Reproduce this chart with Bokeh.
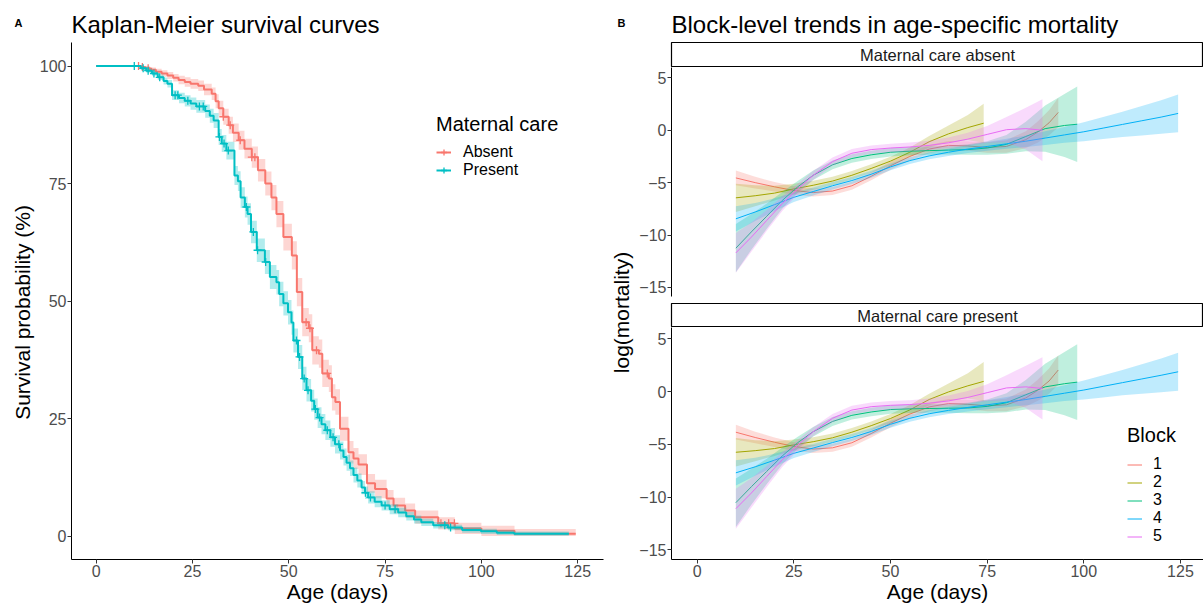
import numpy as np
from bokeh.plotting import figure
from bokeh.models import Range1d, Legend, LegendItem, FixedTicker
from bokeh.layouts import row, column
from bokeh.embed import file_html
from bokeh.resources import INLINE
from bokeh.core.properties import value

FONT = "Liberation Sans"
RED = "#F8766D"
TEAL = "#00BFC4"
BLOCK_COLORS = ["#F8766D", "#A3A500", "#00BF7D", "#00B0F6", "#E76BF3"]

# ---------------- Panel A: Kaplan-Meier data ----------------
absent_time = [0, 11.5, 12.5, 14, 15.5, 17, 18.5, 20, 21.4, 23,
               24.5, 26.5, 28, 30, 31, 31.8, 33, 34.4, 35.5, 37,
               38.5, 40.4, 42, 43.9, 45.5, 46.8, 48.6, 50.8, 52.1, 53.5,
               55.2, 56.1, 57.8, 58.7, 60.4, 61.2, 62.1, 63.3, 65.5, 66.8,
               68.1, 70.3, 72.4, 75.4, 77.2, 80.2, 82.8, 88.8, 93.1, 100,
               108.6, 124.5]
absent_surv = [100, 99.8, 99.5, 99.2, 98.8, 98.4, 98.0, 97.5, 97.0, 96.6,
               96.2, 95.8, 95.0, 94.1, 92.5, 91.0, 89.2, 87.4, 85.8, 84.2,
               82.4, 80.6, 77.8, 75.0, 72.0, 68.5, 63.6, 59.7, 51.9, 45.5,
               44.2, 39.5, 38.8, 34.6, 33.5, 29.5, 28.5, 22.8, 17.8, 16.5,
               15.2, 11.2, 10.0, 8.0, 6.5, 5.4, 4.0, 2.7, 1.6, 1.1,
               0.5, 0.5]
absent_hw = [0, 0.3, 0.45, 0.5, 0.6, 0.7, 0.75, 0.8, 0.9, 1.0,
             1.05, 1.1, 1.2, 1.35, 1.5, 1.6, 1.7, 1.8, 1.95, 2.0,
             2.1, 2.25, 2.4, 2.55, 2.7, 2.8, 2.85, 3.0, 3.0, 3.0,
             3.0, 3.0, 3.0, 2.9, 2.85, 2.8, 2.7, 2.55, 2.4, 2.25,
             2.2, 2.0, 1.95, 1.8, 1.65, 1.5, 1.4, 1.3, 1.2, 1.1,
             1.0, 1.0]
absent_cens_time = [11.0, 12.0, 13.5, 33.0, 34.8, 37.4, 40.4, 41.2, 54.5, 55.5, 57.2, 60.0, 89.5, 91.5, 93.0]
absent_cens_surv = [100, 99.8, 99.5, 89.2, 87.4, 84.2, 80.6, 80.6, 45.5, 44.2, 39.5, 34.6, 2.7, 2.7, 2.7]

present_time = [0, 11.6, 13, 14.5, 16, 17.5, 18.5, 19.7, 21.5, 23,
                24.5, 26, 28.3, 29.5, 30.5, 31.8, 32.6, 33.8, 35.9, 36.8,
                37.5, 38.6, 39.3, 40.2, 41.7, 43.8, 45.1, 46.8, 47.5, 48.6,
                49.8, 50.7, 51.2, 52.4, 53.5, 54.6, 55.8, 56.6, 57.5, 58.5,
                59.5, 60.8, 62.0, 63.3, 64.2, 65.0, 65.9, 66.8, 67.8, 68.9,
                69.8, 70.6, 72.3, 74.1, 76.2, 78.4, 80.5, 82.5, 84.4, 87.5,
                91.3, 95, 99.9, 104, 108.5, 122.7]
present_surv = [100, 99.5, 99.0, 98.4, 97.6, 96.8, 96.2, 93.8, 93.2, 92.6,
                92.0, 91.4, 90.4, 89.4, 88.4, 84.9, 83.5, 82.0, 76.7, 75.5,
                72.0, 70.0, 68.5, 64.7, 60.8, 58.3, 55.1, 54.0, 51.5, 49.5,
                47.6, 45.4, 41.6, 38.1, 33.5, 31.0, 28.8, 27.0, 25.2, 23.8,
                22.5, 21.0, 19.5, 18.2, 16.8, 15.6, 14.4, 13.0, 11.8, 10.3,
                9.2, 8.2, 7.3, 6.5, 5.7, 5.0, 4.2, 3.5, 2.9, 2.3,
                1.8, 1.3, 1.0, 0.7, 0.5, 0.5]
present_hw = [0, 0.3, 0.45, 0.5, 0.6, 0.75, 0.8, 1.05, 1.1, 1.2,
              1.3, 1.35, 1.4, 1.5, 1.6, 1.7, 1.8, 1.9, 2.0, 2.1,
              2.2, 2.25, 2.3, 2.4, 2.5, 2.55, 2.55, 2.6, 2.6, 2.6,
              2.6, 2.6, 2.55, 2.55, 2.5, 2.4, 2.3, 2.25, 2.2, 2.15,
              2.1, 2.0, 1.95, 1.9, 1.8, 1.7, 1.65, 1.6, 1.5, 1.4,
              1.35, 1.3, 1.2, 1.1, 1.05, 1.0, 0.9, 0.85, 0.75, 0.7,
              0.6, 0.6, 0.55, 0.5, 0.45, 0.45]
present_cens_time = [9.9, 12.2, 13.5, 15.0, 16.5, 20.5, 21.2, 23.8, 26.8, 27.8, 32.0, 33.2, 34.3,
                     39.0, 40.8, 41.9, 44.0, 52.0, 52.8, 54.0, 55.0, 56.9, 58.0, 60.0, 61.5, 63.0,
                     69.9, 71.2, 75.0, 77.6, 90.5, 92.0]
present_cens_surv = [100, 99.5, 99.0, 98.4, 97.6, 93.8, 93.8, 92.6, 91.4, 91.4, 84.9, 83.5, 82.0,
                     70.0, 64.7, 60.8, 58.3, 41.6, 38.1, 33.5, 31.0, 27.0, 25.2, 22.5, 21.0, 19.5,
                     9.2, 8.2, 6.5, 5.7, 2.3, 1.8]

age_ticks = [0, 25, 50, 75, 100, 125]
surv_ticks = [0, 25, 50, 75, 100]
mort_ticks = [-15, -10, -5, 0, 5]

# ---------------- Panel B: block-level smooth trends ----------------
block_names = ["1", "2", "3", "4", "5"]
b1_age = [10, 15, 20, 25, 30, 35, 40, 45, 50, 55, 60, 65, 70, 75, 80, 85, 88, 91, 93.4]
b1_absent = [-4.55, -5.0, -5.4, -5.75, -5.95, -5.8, -5.3, -4.4, -3.4, -2.5, -1.8, -1.45, -1.5, -1.65, -1.55, -0.9, -0.2, 0.7, 1.7]
b1_present = [-3.85, -4.35, -4.8, -5.2, -5.45, -5.33, -4.85, -3.98, -3.0, -2.13, -1.45, -1.13, -1.2, -1.35, -1.25, -0.6, 0.1, 1.0, 2.05]
b1_hw = [0.7, 0.55, 0.45, 0.4, 0.38, 0.38, 0.38, 0.38, 0.38, 0.38, 0.4, 0.42, 0.45, 0.5, 0.6, 0.8, 1.0, 1.2, 1.4]

b2_age = [10, 15, 20, 25, 30, 35, 40, 45, 50, 55, 60, 65, 70, 74.1]
b2_absent = [-6.45, -6.25, -6.0, -5.6, -5.25, -4.85, -4.3, -3.65, -2.95, -2.1, -1.1, -0.35, 0.25, 0.67]
b2_present = [-5.75, -5.6, -5.4, -5.05, -4.75, -4.38, -3.85, -3.23, -2.55, -1.73, -0.75, -0.03, 0.55, 0.97]
b2_hw = [1.35, 1.0, 0.7, 0.5, 0.42, 0.4, 0.4, 0.4, 0.42, 0.45, 0.55, 0.8, 1.2, 1.85]

b3_age = [10, 14, 18, 22, 26, 30, 35, 40, 45, 50, 55, 60, 65, 70, 75, 80, 85, 90, 95, 98.3]
b3_absent = [-11.25, -9.7, -8.2, -6.7, -5.4, -4.3, -3.3, -2.7, -2.35, -2.1, -2.0, -1.95, -1.9, -1.85, -1.7, -1.35, -0.6, 0.15, 0.45, 0.57]
b3_present = [-10.53, -9.02, -7.56, -6.1, -4.84, -3.8, -2.83, -2.25, -1.93, -1.7, -1.63, -1.6, -1.58, -1.55, -1.4, -1.05, -0.3, 0.45, 0.75, 0.9]
b3_hw = [2.3, 1.7, 1.2, 0.8, 0.55, 0.45, 0.42, 0.4, 0.4, 0.4, 0.4, 0.4, 0.42, 0.5, 0.65, 0.9, 1.4, 2.2, 3.0, 3.6]

b4_age = [10, 15, 20, 25, 30, 35, 40, 45, 50, 55, 60, 65, 70, 75, 80, 85, 90, 95, 100, 105, 110, 115, 120, 124.4]
b4_absent = [-8.45, -7.8, -7.1, -6.4, -5.85, -5.3, -4.8, -4.2, -3.5, -2.9, -2.45, -2.1, -1.8, -1.55, -1.3, -1.05, -0.75, -0.45, -0.15, 0.2, 0.55, 0.9, 1.25, 1.6]
b4_present = [-7.7, -7.13, -6.5, -5.85, -5.35, -4.83, -4.35, -3.78, -3.1, -2.53, -2.1, -1.78, -1.5, -1.25, -1.0, -0.75, -0.45, -0.15, 0.15, 0.5, 0.85, 1.2, 1.55, 1.88]
b4_hw = [1.2, 0.85, 0.6, 0.45, 0.38, 0.35, 0.33, 0.33, 0.33, 0.33, 0.33, 0.35, 0.38, 0.42, 0.48, 0.55, 0.65, 0.75, 0.9, 1.05, 1.2, 1.4, 1.6, 1.8]

b5_age = [10, 14, 18, 22, 26, 30, 35, 40, 45, 50, 55, 60, 65, 70, 75, 80, 85, 89.3]
b5_absent = [-11.7, -10.2, -8.6, -7.0, -5.6, -4.3, -3.0, -2.2, -1.85, -1.7, -1.6, -1.45, -1.2, -0.85, -0.4, 0.05, 0.15, 0.0]
b5_present = [-11.1, -9.62, -8.04, -6.46, -5.08, -3.8, -2.53, -1.75, -1.43, -1.3, -1.23, -1.1, -0.88, -0.55, -0.1, 0.35, 0.45, 0.3]
b5_hw = [1.9, 1.4, 1.0, 0.7, 0.5, 0.42, 0.4, 0.4, 0.4, 0.4, 0.42, 0.45, 0.5, 0.6, 0.8, 1.2, 2.0, 2.95]

blocks = [
    (b1_age, b1_absent, b1_present, b1_hw),
    (b2_age, b2_absent, b2_present, b2_hw),
    (b3_age, b3_absent, b3_present, b3_hw),
    (b4_age, b4_absent, b4_present, b4_hw),
    (b5_age, b5_absent, b5_present, b5_hw),
]

H = 606          # total height
TOP = 42         # space above the plotting frames
BOT = 47         # space below the plotting frames
FRAME_H = H - TOP - BOT


def style_axis(ax, ticks):
    ax.ticker = FixedTicker(ticks=ticks)
    ax.axis_line_color = "black"
    ax.axis_line_width = 1
    ax.major_tick_line_color = "#333333"
    ax.major_tick_out = 4
    ax.major_tick_in = 0
    ax.minor_tick_line_color = None
    ax.major_label_text_font = FONT
    ax.major_label_text_font_size = "16px"
    ax.major_label_text_color = "#4D4D4D"
    ax.major_label_standoff = 1
    ax.axis_label_text_font = FONT
    ax.axis_label_text_font_size = "21px"
    ax.axis_label_text_font_style = "normal"
    ax.axis_label_text_color = "black"
    ax.axis_label_standoff = 0


def clean(p):
    p.xgrid.visible = False
    p.ygrid.visible = False
    p.background_fill_color = "white"
    p.border_fill_color = "white"


def style_title(t, size, bold=False, align="left", standoff=10):
    t.text_font = FONT
    t.text_font_size = size
    t.text_font_style = "bold" if bold else "normal"
    t.text_color = "black"
    t.align = align
    t.standoff = standoff


def label_column(width, text, x_text, letter):
    f = figure(width=width, height=H, x_range=Range1d(0, width), y_range=Range1d(0, FRAME_H),
               output_backend="svg", toolbar_location=None,
               x_axis_location=None, y_axis_location=None,
               min_border_left=0, min_border_right=0, min_border_top=TOP, min_border_bottom=BOT,
               title=letter)
    clean(f)
    f.outline_line_color = None
    style_title(f.title, "11px", bold=True, align="center", standoff=28)
    f.text(x=[x_text], y=[FRAME_H - (312 - TOP)], text=[text], angle=np.pi / 2,
           text_font=value(FONT), text_font_size="21px", text_color="black",
           text_align="center", text_baseline="middle")
    return f


# ---------------- y label + "A" ----------------
ylab_a = label_column(36, "Survival probability (%)", 22, "A")

# ---------------- Figure A ----------------
km = figure(width=572, height=H, x_range=Range1d(-6.4, 131.7), y_range=Range1d(-5, 105),
            output_backend="svg", toolbar_location=None,
            min_border_left=32, min_border_right=5, min_border_top=TOP, min_border_bottom=BOT,
            title="Kaplan-Meier survival curves")
clean(km)
km.outline_line_color = None
style_title(km.title, "24px", standoff=10)
km.xaxis.axis_label = "Age (days)"
style_axis(km.xaxis[0], age_ticks)
style_axis(km.yaxis[0], surv_ticks)

legend_items = []
for lab, t, s, hw, ct, cs, col in [
        ("Absent", absent_time, absent_surv, absent_hw, absent_cens_time, absent_cens_surv, RED),
        ("Present", present_time, present_surv, present_hw, present_cens_time, present_cens_surv, TEAL)]:
    s_arr = np.array(s)
    h_arr = np.array(hw)
    lo = np.clip(s_arr - h_arr, 0, 100)
    hi = np.clip(s_arr + h_arr, 0, 100)
    km.varea_step(x=t, y1=lo, y2=hi, step_mode="after", fill_color=col, fill_alpha=0.3)
    lr = km.step(x=t, y=s, mode="after", line_color=col, line_width=2)
    cr = km.scatter(x=ct, y=cs, marker="cross", size=8, line_color=col, line_width=1.3)
    legend_items.append(LegendItem(label=lab, renderers=[lr, cr]))

leg_a = Legend(items=legend_items, title="Maternal care", location=(365, 380))
leg_a.title_text_font = FONT
leg_a.title_text_font_size = "20px"
leg_a.title_text_font_style = "normal"
leg_a.title_text_color = "black"
leg_a.title_standoff = 7
leg_a.label_text_font = FONT
leg_a.label_text_font_size = "16px"
leg_a.label_text_color = "black"
leg_a.glyph_width = 15
leg_a.glyph_height = 18
leg_a.label_height = 18
leg_a.label_standoff = 12
leg_a.spacing = 0
leg_a.padding = 0
leg_a.margin = 0
leg_a.border_line_color = None
leg_a.background_fill_alpha = 0
km.add_layout(leg_a)

# ---------------- y label + "B" ----------------
ylab_b = label_column(26, "log(mortality)", 13, "B")

RW = 569
XR = (-6.65, 130.96)


def strip(height, top, label, title=None):
    s = figure(width=RW, height=height, x_range=Range1d(0, 1), y_range=Range1d(0, 1),
               output_backend="svg", toolbar_location=None,
               x_axis_location=None, y_axis_location=None,
               min_border_left=37, min_border_right=0, min_border_top=top, min_border_bottom=0,
               title=title)
    clean(s)
    s.outline_line_color = "black"
    s.outline_line_width = 1.2
    s.text(x=[0.5], y=[0.5], text=[label], text_font=value(FONT), text_font_size="16.5px",
           text_color="#1A1A1A", text_align="center", text_baseline="middle")
    if title is not None:
        style_title(s.title, "24px", standoff=10)
    return s


def facet(height, yr, key, bottom_axis):
    f = figure(width=RW, height=height, x_range=Range1d(*XR), y_range=Range1d(*yr),
               output_backend="svg", toolbar_location=None,
               x_axis_location="below" if bottom_axis else None,
               min_border_left=37, min_border_right=0, min_border_top=0,
               min_border_bottom=BOT if bottom_axis else 7)
    clean(f)
    f.outline_line_color = None
    style_axis(f.yaxis[0], mort_ticks)
    if bottom_axis:
        style_axis(f.xaxis[0], age_ticks)
        f.xaxis.axis_label = "Age (days)"
    rends = []
    for (age, ya, yp, hw), col in zip(blocks, BLOCK_COLORS):
        y = np.array(ya if key == "absent" else yp)
        h = np.array(hw)
        f.varea(x=age, y1=y - h, y2=y + h, fill_color=col, fill_alpha=0.25)
        r = f.line(x=age, y=y, line_color=col, line_width=1)
        rends.append(r)
    return f, rends


s1 = strip(67, TOP, "Maternal care absent", title="Block-level trends in age-specific mortality")
f1, _ = facet(236, (-15.86, 5.98), "absent", False)
s2 = strip(24, 0, "Maternal care present")
f2, rends2 = facet(279, (-15.92, 6.08), "present", True)

leg_b = Legend(items=[LegendItem(label=n, renderers=[r]) for n, r in zip(block_names, rends2)],
               title="Block", location=(456, 14))
leg_b.title_text_font = FONT
leg_b.title_text_font_size = "20px"
leg_b.title_text_font_style = "normal"
leg_b.title_text_color = "black"
leg_b.title_standoff = 8
leg_b.label_text_font = FONT
leg_b.label_text_font_size = "16px"
leg_b.label_text_color = "black"
leg_b.glyph_width = 15
leg_b.glyph_height = 17
leg_b.label_height = 17
leg_b.label_standoff = 11
leg_b.spacing = 0
leg_b.padding = 0
leg_b.margin = 0
leg_b.border_line_color = None
leg_b.background_fill_alpha = 0
f2.add_layout(leg_b)

layout = row(ylab_a, km, ylab_b, column(s1, f1, s2, f2))

open("out.html", "w").write(file_html(layout, INLINE))
